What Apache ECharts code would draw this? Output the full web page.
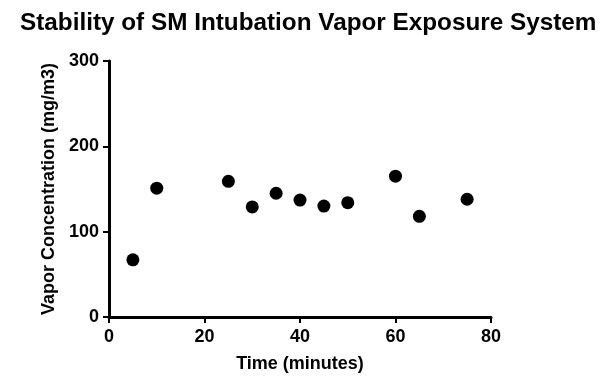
<!DOCTYPE html>
<html>
<head>
<meta charset="utf-8">
<script src="https://cdn.jsdelivr.net/npm/echarts@6/dist/echarts.min.js"></script>
<style>
  html, body { margin: 0; padding: 0; background: #fff; }
  #chart { width: 600px; height: 381px; }
</style>
</head>
<body>
<div id="chart"></div>
<script>
// time in minutes, vapor concentration in mg/m3
const times = [5, 10, 25, 30, 35, 40, 45, 50, 60, 65, 75]
const concentrations = [67, 151, 159, 129, 145, 137, 130, 134, 165, 118, 138]
const xTicks = [0, 20, 40, 60, 80]
const yTicks = [0, 100, 200, 300]

const chart = echarts.init(document.getElementById('chart'))
const font = 'Liberation Sans, Arial, sans-serif'

const axisCommon = {
  axisLine: {show: true, onZero: false, lineStyle: {color: '#000', width: 3}},
  axisTick: {show: true, length: 6, lineStyle: {color: '#000', width: 2}},
  splitLine: {show: false},
  axisLabel: {color: '#000', fontFamily: font, fontWeight: 'bold', fontSize: 18},
  nameLocation: 'middle',
  nameTextStyle: {color: '#000', fontFamily: font, fontWeight: 'bold', fontSize: 18},
}

chart.setOption({
  animation: false,
  title: {
    text: 'Stability of SM Intubation Vapor Exposure System',
    left: 15,
    top: 6,
    textStyle: {color: '#000', fontFamily: font, fontWeight: 'bold', fontSize: 24.3},
  },
  grid: {left: 109, right: 109, top: 61, bottom: 64},
  xAxis: {
    ...axisCommon,
    type: 'value',
    min: xTicks[0],
    max: xTicks[xTicks.length - 1],
    interval: 20,
    name: 'Time (minutes)',
    nameGap: 38,
    axisLabel: {...axisCommon.axisLabel, margin: 11},
  },
  yAxis: {
    ...axisCommon,
    type: 'value',
    min: yTicks[0],
    max: yTicks[yTicks.length - 1],
    interval: 100,
    name: 'Vapor Concentration (mg/m3)',
    nameGap: 42,
    axisLabel: {...axisCommon.axisLabel, margin: 10},
  },
  series: [{
    type: 'scatter',
    symbol: 'circle',
    symbolSize: 13,
    itemStyle: {color: '#000', opacity: 1},
    data: times.map((t, i) => [t, concentrations[i]]),
  }],
})
</script>
</body>
</html>
